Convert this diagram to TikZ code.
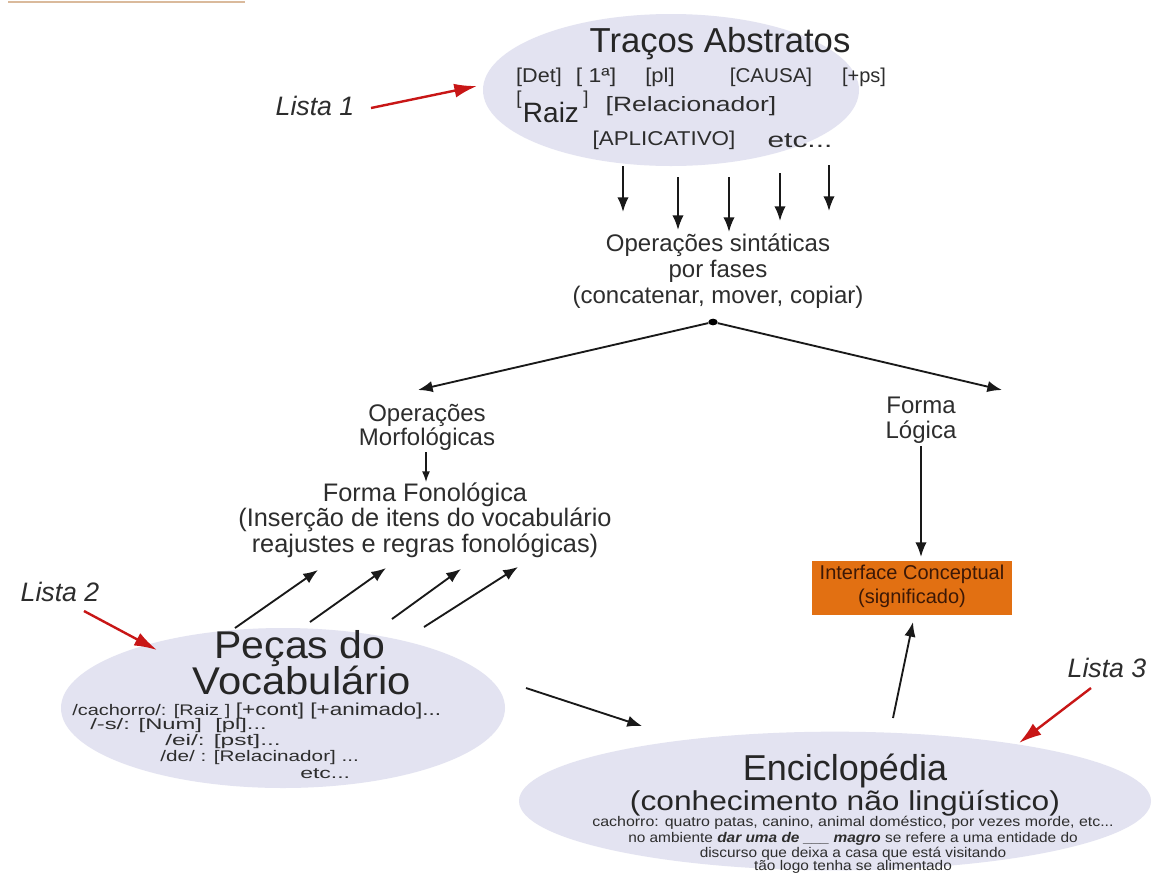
\documentclass[tikz,border=0pt]{standalone}
\usepackage{fontspec}
\usepackage{graphicx}
\setmainfont{Liberation Sans}
\usetikzlibrary{shapes.geometric,arrows.meta}
\definecolor{ell}{RGB}{227,227,241}
\definecolor{txt}{RGB}{45,45,45}
\definecolor{redarr}{RGB}{200,22,22}
\definecolor{orangebox}{RGB}{226,112,18}
\definecolor{boxtxt}{RGB}{60,24,6}
\definecolor{tan}{RGB}{218,186,156}
\newcommand{\wide}[2]{\scalebox{#1}[1]{#2}}
\begin{document}
\begin{tikzpicture}[x=0.75pt,y=-0.75pt,
  t/.style={inner sep=0pt, text=txt, align=center},
  ellbox/.style={ellipse, fill=ell, inner sep=0pt},
  arr/.style={-{Latex[length=11pt,width=8.5pt]}, line width=1.4pt, black!90},
  redar/.style={-{Latex[length=17pt,width=10.5pt]}, line width=1.8pt, redarr},
  lista/.style={inner sep=0pt, text=txt, font=\fontsize{20}{22}\selectfont\itshape},
  f15/.style={font=\fontsize{15}{17}\selectfont},
  small/.style={inner sep=0pt, text=txt, font=\fontsize{11.5}{13}\selectfont},
]
\useasboundingbox (0,0) rectangle (1153,872);
\fill[white] (0,0) rectangle (1153,872);
\draw[tan, line width=2pt] (8,2) -- (245,2);

% ---------- Traços Abstratos ----------
\node[ellbox, minimum width=282pt, minimum height=114pt] (trac) at (671,90) {};
\node[t, font=\fontsize{26}{30}\selectfont, text=black!85] (tracT) at (720,44) {Traços Abstratos};
\node[t, f15] (det) at (539,77) {\wide{1.08}{[Det]}};
\node[t, f15] (pri) at (596,77) {\wide{1.15}{[ 1ª]}};
\node[t, f15] (pl) at (660,77) {\wide{1.1}{[pl]}};
\node[t, f15] (causa) at (771,77) {\wide{1.03}{[CAUSA]}};
\node[t, f15] (ps) at (864,77) {[+ps]};
\node[t, font=\fontsize{14}{15}\selectfont] (rb1) at (519,100) {[};
\node[t, font=\fontsize{21}{23}\selectfont, text=black!85] (raiz) at (551,112) {Raiz};
\node[t, font=\fontsize{14}{15}\selectfont] (rb2) at (586,100) {]};
\node[t, font=\fontsize{15.5}{18}\selectfont] (rel) at (691,106) {\wide{1.28}{[Relacionador]}};
\node[t, f15] (apl) at (664,140) {\wide{1.12}{[APLICATIVO]}};
\node[t, font=\fontsize{16}{18}\selectfont] (etc1) at (800,141) {\wide{1.4}{etc...}};

\node[lista] (l1) at (315,106) {Lista 1};
\coordinate (l1a) at (371,108);
\coordinate (l1b) at (477,86);
\draw[redar] (l1a) -- (l1b);

% ---------- down arrows ----------
\foreach \i/\xx/\ya/\yb in {1/623/166/212, 2/678/177/230, 3/729/177/232, 4/780/173/221, 5/829/165/211}{
  \coordinate (da\i) at (\xx,\ya);
  \coordinate (db\i) at (\xx,\yb);
  \draw[arr] (da\i) -- (db\i);
}

\node[t, font=\fontsize{18}{19.5}\selectfont] (ops) at (718,271) {Operações sintáticas\\por fases\\(concatenar, mover, copiar)};

\node[ellipse, fill=black, inner sep=0pt, minimum width=7pt, minimum height=5pt] (dot) at (713,322) {};
\coordinate (omTip) at (418,390);
\coordinate (flTip) at (1002,390);
\draw[arr] (dot) -- (omTip);
\draw[arr] (dot) -- (flTip);

% ---------- left branch ----------
\node[t, font=\fontsize{18}{18}\selectfont] (om) at (427,427) {Operações\\Morfológicas};
\coordinate (oma) at (426,452);
\coordinate (omb) at (426,482);
\draw[-{Latex[length=8pt,width=6pt]}, line width=1pt, black!90] (oma) -- (omb);
\node[t, font=\fontsize{19}{17.5}\selectfont] (ff) at (425,520) {Forma Fonológica\\(Inserção de itens do vocabulário\\reajustes e regras fonológicas)};

% ---------- right branch ----------
\node[t, font=\fontsize{18}{19}\selectfont] (fl) at (921,420) {Forma\\Lógica};
\coordinate (fla) at (921,446);
\node[fill=orangebox, minimum width=150pt, minimum height=41pt, inner sep=0pt] (ic) at (912,588) {};
\node[t, text=boxtxt, font=\fontsize{15}{18}\selectfont] (icT) at (912,586) {Interface Conceptual\\(significado)};
\coordinate (flb) at (921,557);
\draw[arr] (fla) -- (flb);

% ---------- Peças do Vocabulário ----------
\node[ellbox, minimum width=333pt, minimum height=120pt] (pv) at (283,708) {};
\node[t, font=\fontsize{29}{31}\selectfont, text=black!85] (pvT1) at (300,649) {\wide{1.06}{Peças do}};
\node[t, font=\fontsize{29}{31}\selectfont, text=black!85] (pvT2) at (302,680) {\wide{1.08}{Vocabulário}};
\node[small, anchor=west] (pv1) at (72,711) {\wide{1.3}{/cachorro/: [Raiz ] {\fontsize{13}{13}\selectfont [+cont] [+animado]...}}};
\node[small, anchor=west] (pv2) at (90,726) {\wide{1.55}{/-s/: [Num]\ \ [pl]...}};
\node[small, anchor=west] (pv3) at (165,742) {\wide{1.6}{/ei/: [pst]...}};
\node[small, anchor=west] (pv4) at (160,758) {\wide{1.35}{/de/ : [Relacinador] ...}};
\node[small, anchor=west] (pv5) at (300,774) {\wide{1.5}{etc...}};

\node[lista] (l2) at (60,592) {Lista 2};
\coordinate (l2a) at (84,611);
\coordinate (l2b) at (157,650);
\draw[redar] (l2a) -- (l2b);

\foreach \i/\xa/\ya/\xb/\yb in {1/235/628/318/570, 2/310/622/386/568, 3/392/619/461/569, 4/424/627/518/567}{
  \coordinate (pa\i) at (\xa,\ya);
  \coordinate (pb\i) at (\xb,\yb);
  \draw[arr] (pa\i) -- (pb\i);
}

% ---------- Enciclopédia ----------
\node[ellbox, minimum width=474pt, minimum height=104pt] (enc) at (835,801) {};
\node[t, font=\fontsize{27}{30}\selectfont, text=black!85] (encT) at (845,771) {Enciclopédia};
\node[t, font=\fontsize{20.5}{24}\selectfont, text=black!85] (encS) at (845,803) {\wide{1.16}{(conhecimento não lingüístico)}};
\node[small, font=\fontsize{10.5}{12}\selectfont] (enc1) at (853,823) {\wide{1.14}{cachorro: quatro patas, canino, animal doméstico, por vezes morde, etc...}};
\node[small, font=\fontsize{10.5}{12}\selectfont] (enc2) at (853,839) {\wide{1.1}{no ambiente \textbf{\textit{dar uma de \_\_\_ magro}} se refere a uma entidade do}};
\node[small, font=\fontsize{10.5}{12}\selectfont] (enc3) at (853,854) {\wide{1.1}{discurso que deixa a casa que está visitando}};
\node[small, font=\fontsize{10.5}{12}\selectfont] (enc4) at (853,867) {\wide{1.1}{tão logo tenha se alimentado}};

\coordinate (pe1) at (526,688);
\coordinate (pe2) at (642,726);
\draw[arr] (pe1) -- (pe2);
\coordinate (ei1) at (893,718);
\coordinate (ei2) at (913,622);
\draw[arr] (ei1) -- (ei2);

\node[lista] (l3) at (1107,668) {Lista 3};
\coordinate (l3a) at (1091,688);
\coordinate (l3b) at (1019,743);
\draw[redar] (l3a) -- (l3b);
\end{tikzpicture}
\end{document}
